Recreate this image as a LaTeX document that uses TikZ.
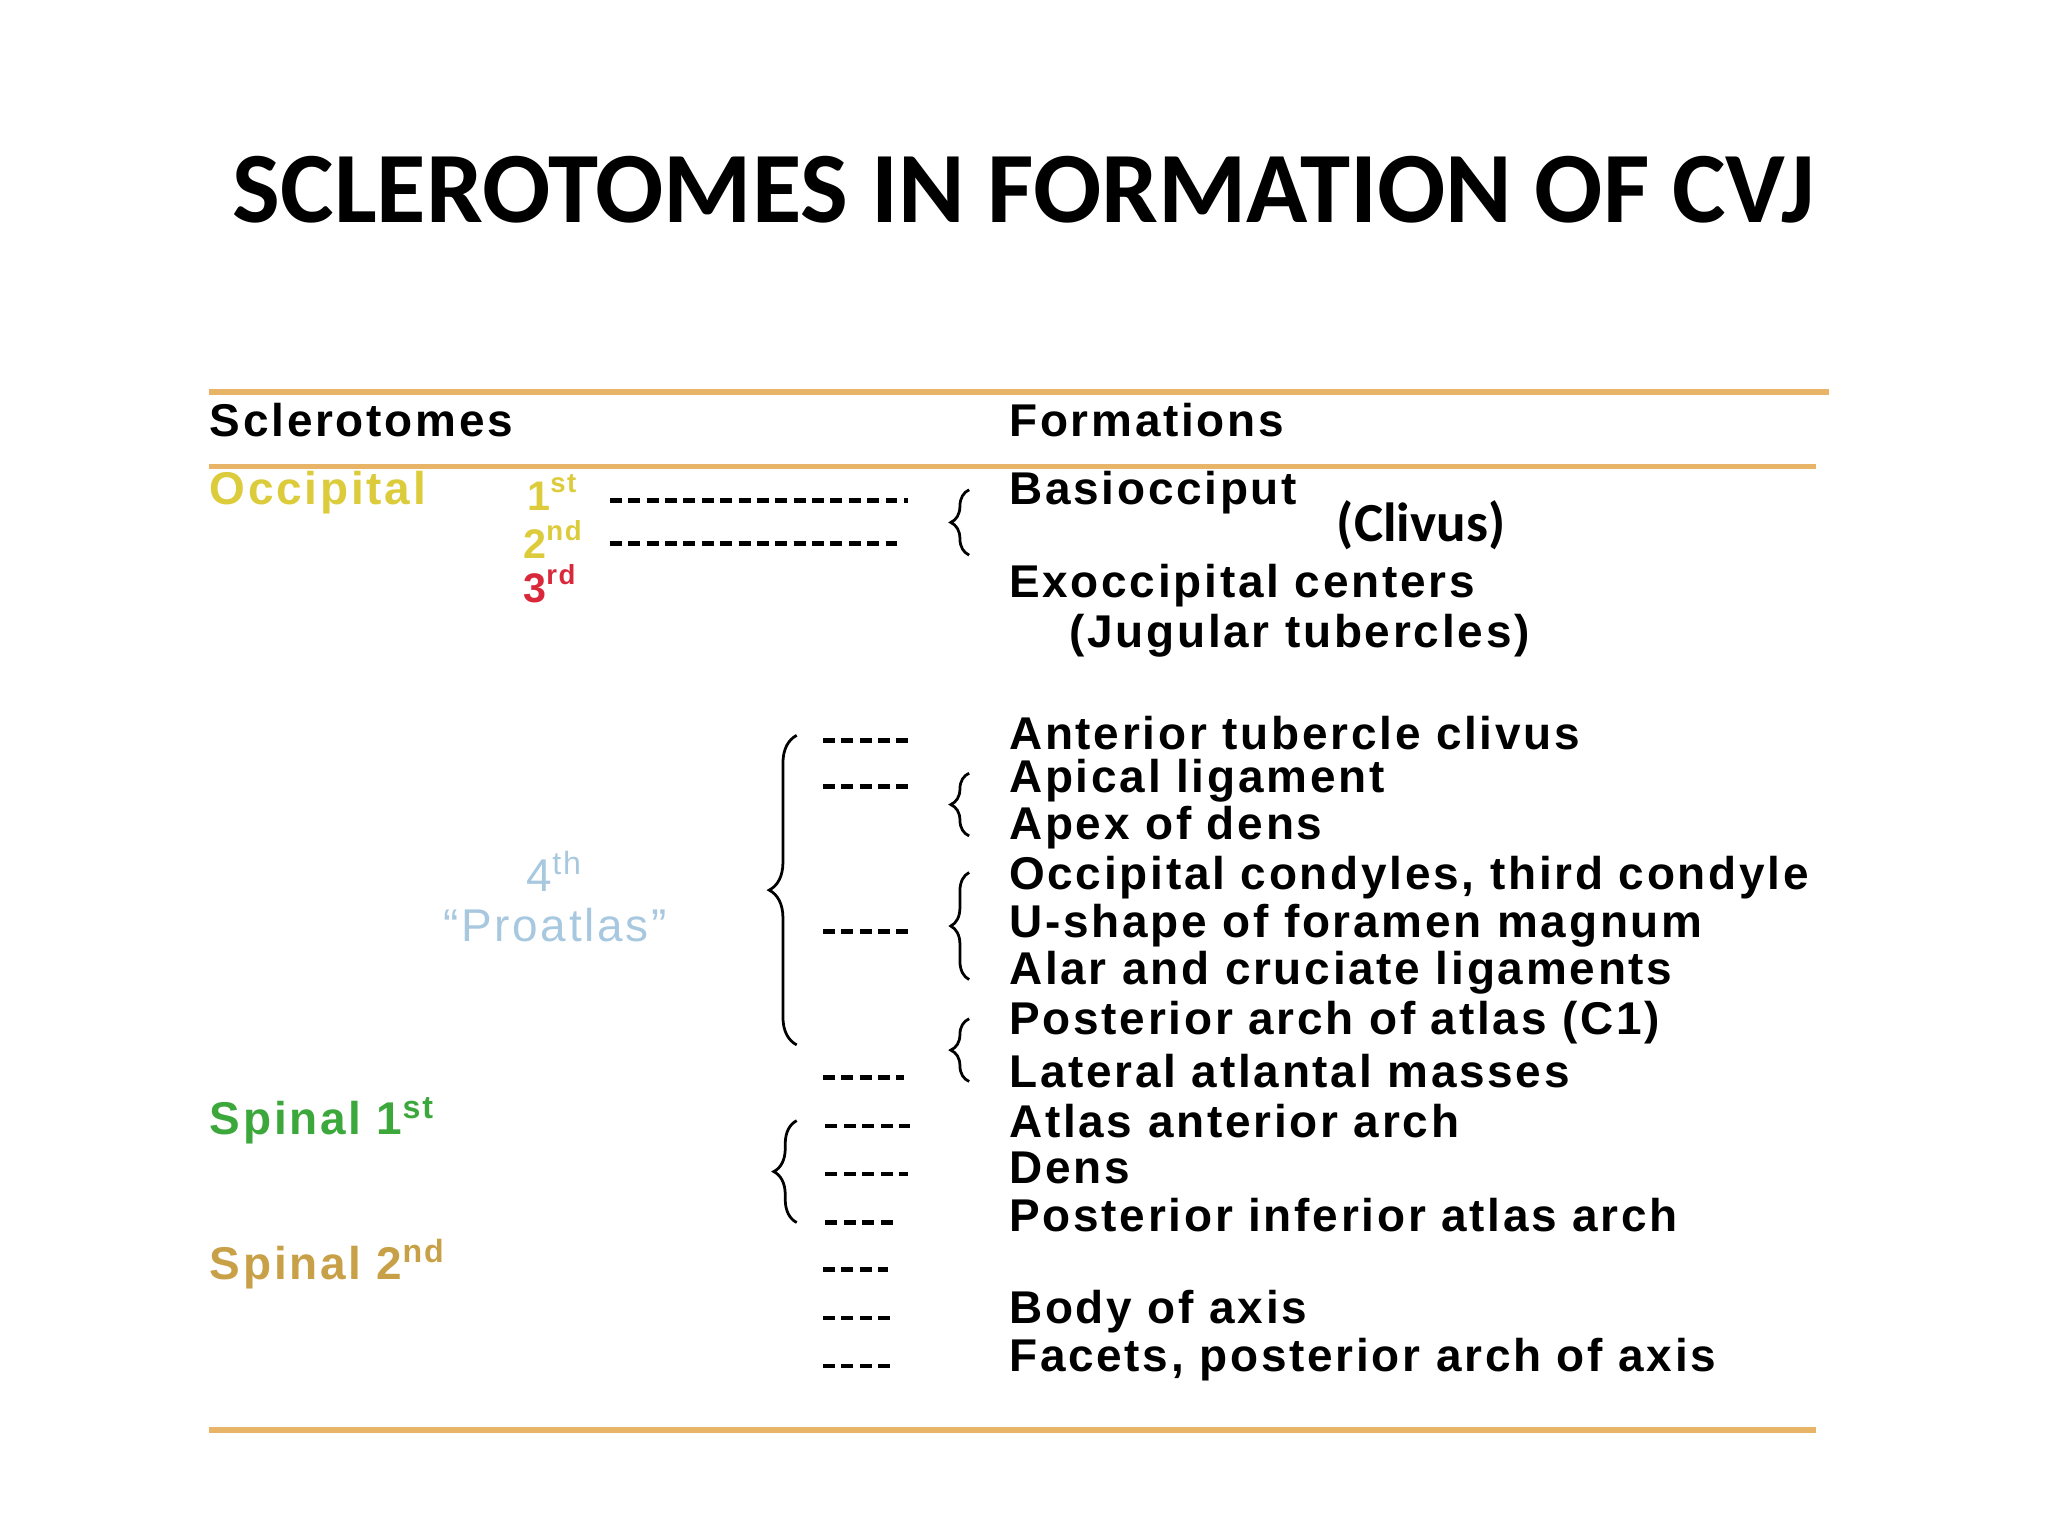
\documentclass[tikz,border=0pt]{standalone}
\usepackage{fontspec}
\setmainfont[LetterSpace=6]{Liberation Sans}
\newfontfamily\titlefont{Carlito}
\usetikzlibrary{decorations.pathreplacing}
\definecolor{rule}{HTML}{E8B468}
\definecolor{occ}{HTML}{DCCB3A}
\definecolor{third}{HTML}{D8283A}
\definecolor{pro}{HTML}{A8C8E0}
\definecolor{spone}{HTML}{3CA83C}
\definecolor{sptwo}{HTML}{C8A048}
\begin{document}
\begin{tikzpicture}[x=0.01cm,y=-0.01cm,
  t/.style={anchor=west,inner sep=0,font=\bfseries\fontsize{10}{11}\selectfont},
  ord/.style={anchor=west,inner sep=0,font=\bfseries\fontsize{9}{10}\selectfont},
  dl/.style={line width=1pt,dash pattern=on 2.6pt off 1.4pt},
  br/.style={decorate,decoration={brace,amplitude=4pt},line width=0.6pt}]
\useasboundingbox (0,0) rectangle (1568,1176);
\node[inner sep=0,font=\titlefont\bfseries\fontsize{22}{24}\selectfont] (title) at (784,145) {SCLEROTOMES IN FORMATION OF CVJ};
\coordinate (l1a) at (160,300); \coordinate (l1b) at (1400,300);
\coordinate (l2a) at (160,357); \coordinate (l2b) at (1390,357);
\coordinate (l3a) at (160,1095); \coordinate (l3b) at (1390,1095);
\draw[rule,line width=1.2pt] (l1a)--(l1b) (l2a)--(l2b) (l3a)--(l3b);
\node[t] (hs) at (160,322) {Sclerotomes};
\node[t] (hf) at (772,322) {Formations};
\node[t,occ] (occ) at (160,377) {Occipital};
\node[ord,occ] (o1) at (403,377) {1\textsuperscript{st}};
\node[ord,occ] (o2) at (400,413) {2\textsuperscript{nd}};
\node[ord,third] (o3) at (400,447) {3\textsuperscript{rd}};
\node[t] (f1) at (772,377) {Basiocciput};
\node[inner sep=0,font=\titlefont\bfseries\fontsize{12}{13}\selectfont] (clivus) at (1088,402) {(Clivus)};
\node[t] (f2) at (772,448) {Exoccipital centers};
\node[t] (f3) at (818,487) {(Jugular tubercles)};
\node[t] (f4) at (772,561) {Anterior tubercle clivus};
\node[t] (f5) at (772,598) {Apical ligament};
\node[t] (f6) at (772,634) {Apex of dens};
\node[t] (f7) at (772,672) {Occipital condyles, third condyle};
\node[t] (f8) at (772,709) {U-shape of foramen magnum};
\node[t] (f9) at (772,745) {Alar and cruciate ligaments};
\node[t] (f10) at (772,783) {Posterior arch of atlas (C1)};
\node[t] (f11) at (772,820) {Lateral atlantal masses};
\node[t] (f12) at (772,858) {Atlas anterior arch};
\node[t] (f13) at (772,894) {Dens};
\node[t] (f14) at (772,930) {Posterior inferior atlas arch};
\node[t] (f15) at (772,1004) {Body of axis};
\node[t] (f16) at (772,1041) {Facets, posterior arch of axis};
% dashed leaders
\coordinate (a1) at (467,383); \coordinate (b1) at (695,383);
\coordinate (a2) at (467,416); \coordinate (b2) at (690,416);
\coordinate (a3) at (630,567); \coordinate (b3) at (695,567);
\coordinate (a4) at (630,602); \coordinate (b4) at (695,602);
\coordinate (a5) at (630,713); \coordinate (b5) at (695,713);
\coordinate (a6) at (630,825); \coordinate (b6) at (692,825);
\coordinate (a7) at (632,862); \coordinate (b7) at (697,862);
\coordinate (a8) at (632,899); \coordinate (b8) at (695,899);
\coordinate (a9) at (632,936); \coordinate (b9) at (685,936);
\coordinate (a10) at (630,972); \coordinate (b10) at (680,972);
\coordinate (a11) at (630,1009); \coordinate (b11) at (682,1009);
\coordinate (a12) at (630,1046); \coordinate (b12) at (685,1046);
\foreach \i in {1,...,12} {\draw[dl] (a\i)--(b\i);}
\node[inner sep=0,pro,font=\fontsize{10}{11}\selectfont] (p4) at (425,667) {4\textsuperscript{th}};
\node[inner sep=0,pro,font=\fontsize{10}{11}\selectfont] (pa) at (425,708) {“Proatlas”};
\node[t,spone] (s1) at (160,858) {Spinal 1\textsuperscript{st}};
\node[t,sptwo] (s2) at (160,968) {Spinal 2\textsuperscript{nd}};
\coordinate (b1a) at (742,425); \coordinate (b1b) at (742,375);
\coordinate (b2a) at (742,640); \coordinate (b2b) at (742,592);
\coordinate (b3a) at (742,750); \coordinate (b3b) at (742,668);
\coordinate (b4a) at (742,828); \coordinate (b4b) at (742,780);
\coordinate (b5a) at (610,800); \coordinate (b5b) at (610,563);
\coordinate (b6a) at (610,936); \coordinate (b6b) at (610,858);
\draw[br] (b1a)--(b1b); \draw[br] (b2a)--(b2b); \draw[br] (b3a)--(b3b);
\draw[br] (b4a)--(b4b); \draw[br,decoration={amplitude=6pt}] (b5a)--(b5b);
\draw[br,decoration={amplitude=5pt}] (b6a)--(b6b);
\end{tikzpicture}
\end{document}
